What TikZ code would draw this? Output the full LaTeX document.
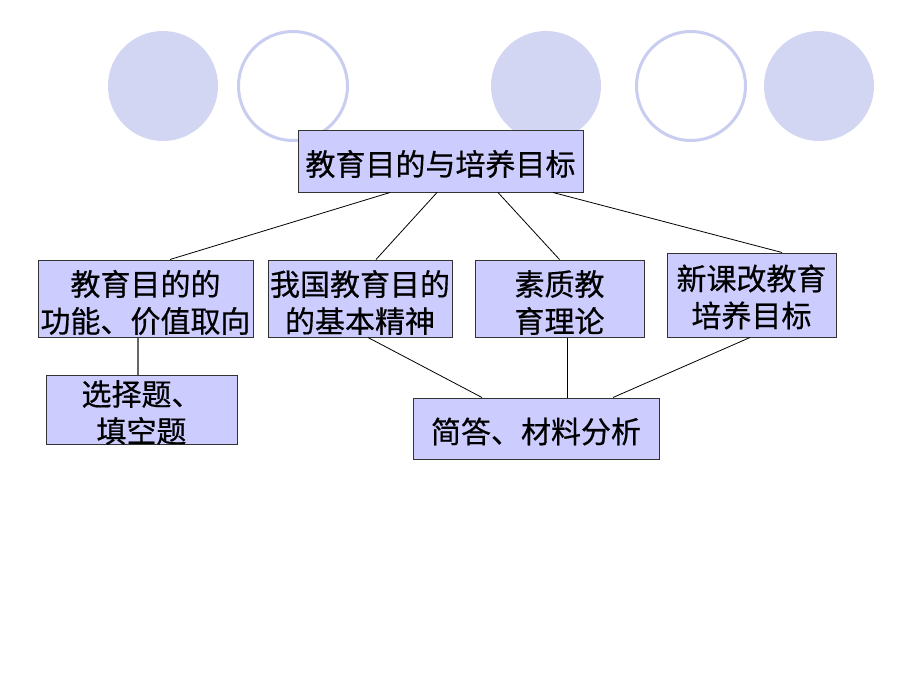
\documentclass[tikz,border=0pt]{standalone}
\usepackage{fontspec}
\setmainfont{Noto Sans CJK SC}[FakeBold=0.5]
\definecolor{boxfill}{HTML}{CCCCFF}
\definecolor{circfill}{HTML}{D3D6F2}
\definecolor{circline}{HTML}{C9CDF0}
\definecolor{boxline}{HTML}{333333}
\begin{document}
\begin{tikzpicture}[x=1pt,y=-1pt,
  box/.style={draw=boxline,line width=1pt,fill=boxfill,inner sep=0pt},
  txt/.style={inner sep=0pt,align=center,font=\fontsize{30}{37}\selectfont},
  conn/.style={draw=black,line width=0.8pt},
  fullcirc/.style={fill=circfill,draw=none},
  ringcirc/.style={draw=circline,line width=3pt,fill=white}]
\fill[white] (0,0) rectangle (920,690);
\useasboundingbox (0,0) rectangle (920,690);
% decorative circles
\path[fullcirc] (163,86) circle (55);
\path[ringcirc] (293,86) circle (54.5);
\path[fullcirc] (546,86) circle (55);
\path[ringcirc] (691,86) circle (54.5);
\path[fullcirc] (819,86) circle (55);
% boxes
\node[box,minimum width=285pt,minimum height=62pt] (top) at (440.5,161) {};
\node[box,minimum width=215pt,minimum height=77pt] (b1) at (145.5,298.5) {};
\node[box,minimum width=184pt,minimum height=77pt] (b2) at (360,298.5) {};
\node[box,minimum width=169pt,minimum height=77pt] (b3) at (559.5,298.5) {};
\node[box,minimum width=169pt,minimum height=84pt] (b4) at (751.5,295) {};
\node[box,minimum width=191pt,minimum height=69pt] (bl) at (141.5,409.5) {};
\node[box,minimum width=246pt,minimum height=61pt] (br) at (536,428.5) {};
% texts
\node[txt] (ttop) at ([yshift=-3pt]top.center) {教育目的与培养目标};
\node[txt] (tb1) at ([yshift=-4pt]b1.center) {教育目的的\\功能、价值取向};
\node[txt] (tb2) at ([yshift=-4pt]b2.center) {我国教育目的\\的基本精神};
\node[txt] (tb3) at ([yshift=-4pt]b3.center) {素质教\\育理论};
\node[txt] (tb4) at ([yshift=-2pt]b4.center) {新课改教育\\培养目标};
\node[txt] (tbl) at ([yshift=-3pt]bl.center) {选择题、\\填空题};
\node[txt] (tbr) at ([yshift=-3pt]br.center) {简答、材料分析};
% connectors
\draw[conn] ([xshift=-50.5pt]top.south) -- ([xshift=24.5pt]b1.north);
\draw[conn] ([xshift=-3.5pt]top.south) -- ([xshift=16pt]b2.north);
\draw[conn] ([xshift=57.5pt]top.south) -- (b3.north);
\draw[conn] ([xshift=112.5pt]top.south) -- ([xshift=30.5pt]b4.north);
\draw[conn,draw=black!60,line width=1.2pt] ([xshift=-7.5pt]b1.south) -- ([xshift=-7.5pt]b1.south |- bl.north);
\draw[conn] ([xshift=8pt]b2.south) -- ([xshift=-54pt]br.north);
\draw[conn] ([xshift=7.5pt]b3.south) -- ([xshift=31pt]br.north);
\draw[conn] ([xshift=-1.5pt]b4.south) -- ([xshift=77pt]br.north);
\end{tikzpicture}
\end{document}
